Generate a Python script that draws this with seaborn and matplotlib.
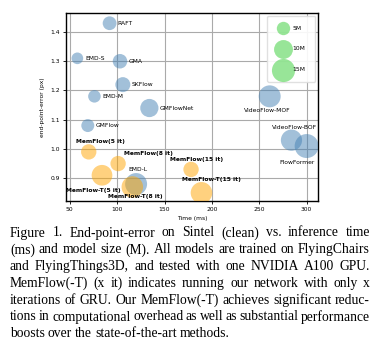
import seaborn as sns
import matplotlib.pyplot as plt
import pandas as pd

# Models, inference time (ms), end-point-error (px), params (M)
models = ['RAFT', 'EMD-S', 'GMA', 'SKFlow', 'EMD-M', 'GMFlowNet', 'GMFlow',
          'VideoFlow-MOF', 'VideoFlow-BOF', 'FlowFormer', 'EMD-L',
          'MemFlow(5 it)', 'MemFlow(8 it)', 'MemFlow(15 it)',
          'MemFlow-T(5 it)', 'MemFlow-T(8 it)', 'MemFlow-T(15 it)']
time_ms = [92, 58, 103, 106, 76, 134, 69, 261, 284, 300, 120,
           70, 101, 178, 84, 116, 189]
epe = [1.43, 1.31, 1.30, 1.22, 1.18, 1.14, 1.08, 1.18, 1.03, 1.01, 0.88,
       0.99, 0.95, 0.93, 0.91, 0.87, 0.85]
params = [5.3, 3.8, 5.9, 6.3, 4.4, 9.3, 4.7, 13.5, 12.6, 16.1, 13.5,
          6.6, 6.6, 6.6, 12.0, 13.0, 13.0]
group = ['other'] * 11 + ['ours'] * 6

legend_sizes = [5, 10, 15]
legend_labels = ['5M', '10M', '15M']

caption = [
    "Figure 1.  End-point-error on Sintel (clean) vs.  inference time",
    "(ms) and model size (M). All models are trained on FlyingChairs",
    "and FlyingThings3D, and tested with one NVIDIA A100 GPU.",
    "MemFlow(-T) (x it) indicates running our network with only x",
    "iterations of GRU. Our MemFlow(-T) achieves significant reduc-",
    "tions in computational overhead as well as substantial performance",
    "boosts over the state-of-the-art methods.",
]

df = pd.DataFrame({'model': models, 'time': time_ms, 'epe': epe,
                   'params': params, 'group': group})

k = 18.5  # marker area (pt^2) per million params

fig = plt.figure(figsize=(3.89, 3.5), dpi=100)
ax = fig.add_axes([66 / 389, 1 - 201 / 350, 252 / 389, 188 / 350])

sns.scatterplot(data=df, x='time', y='epe', hue='group', size='params',
                sizes=(0, 20 * k), size_norm=(0, 20),
                palette={'other': 'steelblue', 'ours': 'orange'},
                alpha=0.5, linewidth=0, legend=False, ax=ax, zorder=3)

# label placement (pixel offsets from the bubble centre)
offsets = {
    'RAFT': (8, 0, 'left'), 'EMD-S': (8, 0, 'left'), 'GMA': (9, 0, 'left'),
    'SKFlow': (9, 0, 'left'), 'EMD-M': (8, 0, 'left'),
    'GMFlowNet': (10, 0, 'left'), 'GMFlow': (8, 0, 'left'),
    'VideoFlow-MOF': (-2, -14, 'center'), 'VideoFlow-BOF': (3, 13, 'center'),
    'FlowFormer': (-10, -16, 'center'), 'EMD-L': (2, 15, 'center'),
    'MemFlow(5 it)': (12, 10, 'center'), 'MemFlow(8 it)': (6, 10, 'left'),
    'MemFlow(15 it)': (6, 10, 'center'),
    'MemFlow-T(5 it)': (-9, -15, 'center'), 'MemFlow-T(8 it)': (3, -10, 'center'),
    'MemFlow-T(15 it)': (10, 13, 'center'),
}
for _, r in df.iterrows():
    dx, dy, ha = offsets[r['model']]
    ax.annotate(r['model'], (r['time'], r['epe']), xytext=(dx, dy),
                textcoords='offset pixels', ha=ha, va='center', fontsize=4.3,
                fontweight='bold' if r['group'] == 'ours' else 'normal',
                zorder=4)

ax.set_xlim(46, 312)
ax.set_ylim(0.822, 1.465)
ax.set_xticks([50, 100, 150, 200, 250, 300])
ax.set_yticks([0.9, 1.0, 1.1, 1.2, 1.3, 1.4])
ax.grid(True, color='#aaaaaa', linewidth=0.8, zorder=0)
ax.set_axisbelow(True)
ax.tick_params(labelsize=4.3, length=2.5, width=0.6, pad=2)
for s in ax.spines.values():
    s.set_linewidth(1.0)
    s.set_color('black')
ax.set_xlabel('Time (ms)', fontsize=4.3, labelpad=3)
ax.set_ylabel('end-point-error (px)', fontsize=4.3, labelpad=4)

handles = [ax.scatter([], [], s=m * k, color='limegreen', alpha=0.5, linewidth=0)
           for m in legend_sizes]
ax.legend(handles, legend_labels, loc='upper right', fontsize=4.3,
          labelspacing=2.6, borderpad=1.6, handletextpad=0.6,
          scatterpoints=1, frameon=True, framealpha=0.9, edgecolor='#dddddd')

# caption, justified word by word
fig.canvas.draw()
renderer = fig.canvas.get_renderer()
left, right = 10, 370
serif = 'Liberation Serif'


def width(s, size):
    t = fig.text(0, 0, s, fontsize=size, family=serif)
    w = t.get_window_extent(renderer).width
    t.remove()
    return w


# pick the font size so the tightest line fits with ~2.5 px word gaps
tight = caption[5].split()
fs = 10 * (right - left - 2.5 * (len(tight) - 1)) / sum(width(w, 10) for w in tight)
space = 3.0

for i, line in enumerate(caption):
    y = 1 - (233 + i * 16.8) / 350
    words = line.split()
    texts = [fig.text(0, y, w, fontsize=fs, family=serif,
                      va='center', ha='left') for w in words]
    widths = [t.get_window_extent(renderer).width for t in texts]
    if i == len(caption) - 1:
        gw = space
    else:
        gw = (right - left - sum(widths)) / (len(words) - 1)
    x = left
    for t, w in zip(texts, widths):
        t.set_x(x / 389)
        x += w + gw

fig.savefig('out.png', dpi=100)
